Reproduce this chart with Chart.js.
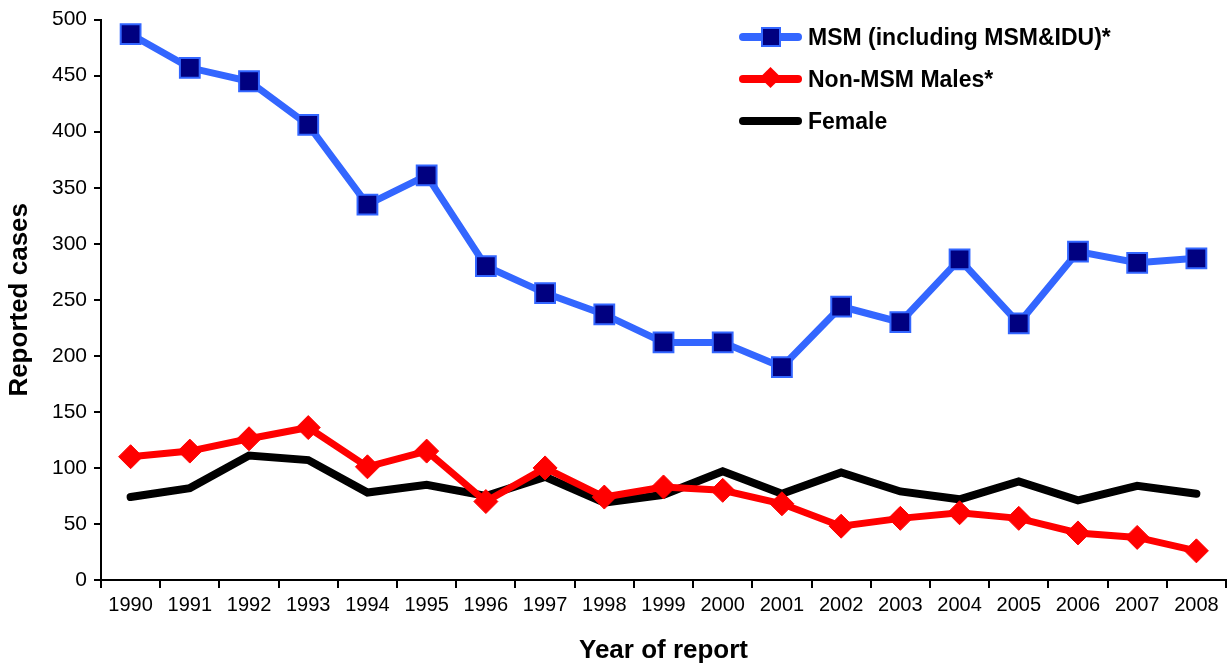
<!DOCTYPE html>
<html>
<head>
<meta charset="utf-8">
<script src="https://cdn.jsdelivr.net/npm/chart.js@4"></script>
<style>
  html, body { margin: 0; padding: 0; background: #fff; overflow: hidden; }
  #wrap { position: relative; width: 1231px; height: 670px; }
  #c { display: block; }
  #legend { position: absolute; left: 739px; top: 21px; font: bold 23px "Liberation Sans", Arial, sans-serif; color: #000; }
  .row { position: relative; height: 42px; line-height: 32px; padding-left: 69px; }
  .ln { position: absolute; left: 0; top: 12px; width: 63px; height: 8px; border-radius: 4px; }
  .mk { position: absolute; }
</style>
</head>
<body>
<div id="wrap">
  <canvas id="c" width="1231" height="670"></canvas>
  <div id="legend">
    <div class="row"><span class="ln" style="background:#3366ff"></span><span class="mk" style="left:22px;top:6px;width:16px;height:16px;background:#000080;border:2px solid #3366ff"></span>MSM (including MSM&amp;IDU)*</div>
    <div class="row"><span class="ln" style="background:#ff0000"></span><span class="mk" style="left:24px;top:7px;width:15px;height:15px;background:#ff0000;transform:rotate(45deg)"></span>Non-MSM Males*</div>
    <div class="row"><span class="ln" style="background:#000"></span>Female</div>
  </div>
</div>
<script>
// === Data ===
const years = ['1990','1991','1992','1993','1994','1995','1996','1997','1998','1999',
               '2000','2001','2002','2003','2004','2005','2006','2007','2008'];
const msm = [487, 457, 445, 406, 335, 361, 280, 256, 237, 212, 212, 190, 244, 230, 286, 229, 293, 283, 287];
const nonMsmMales = [110, 115, 126, 136, 101, 115, 70, 100, 74, 83, 80, 68, 48, 55, 60, 55, 42, 38, 26];
const female = [74, 82, 111, 107, 78, 85, 75, 92, 69, 76, 97, 77, 96, 79, 72, 88, 71, 84, 77];
const yTicks = [0, 50, 100, 150, 200, 250, 300, 350, 400, 450, 500];

const font = 'Liberation Sans';

// === Chart ===
const ctx = document.getElementById('c').getContext('2d');
new Chart(ctx, {
  type: 'line',
  data: {
    labels: years,
    datasets: [
      {
        label: 'MSM (including MSM&IDU)*',
        data: msm,
        borderColor: '#3366ff',
        borderWidth: 7,
        pointStyle: 'rect',
        pointRadius: 14,
        pointBackgroundColor: '#000080',
        pointBorderColor: '#3366ff',
        pointBorderWidth: 2,
        tension: 0,
        order: 0
      },
      {
        label: 'Non-MSM Males*',
        data: nonMsmMales,
        borderColor: '#ff0000',
        borderWidth: 7,
        pointStyle: 'rectRot',
        pointRadius: 12,
        pointBackgroundColor: '#ff0000',
        pointBorderColor: '#ff0000',
        pointBorderWidth: 1,
        tension: 0,
        order: 1
      },
      {
        label: 'Female',
        data: female,
        borderColor: '#000000',
        borderWidth: 8,
        borderCapStyle: 'round',
        pointRadius: 0,
        tension: 0,
        order: 2
      }
    ]
  },
  options: {
    responsive: false,
    animation: false,
    layout: { autoPadding: false, padding: { top: 8, right: 5, left: 0, bottom: 0 } },
    plugins: {
      legend: { display: false },
      tooltip: { enabled: false }
    },
    scales: {
      x: {
        offset: true,
        grid: { offset: true, drawOnChartArea: false, color: '#000', lineWidth: 2, tickLength: 8 },
        border: { color: '#000', width: 2 },
        ticks: { color: '#000', font: { family: font, size: 20 }, maxRotation: 0, padding: 5 },
        title: { display: true, text: 'Year of report', color: '#000', font: { family: font, size: 26, weight: 'bold' }, padding: { top: 6 } },
        afterFit: function (s) { s.height = 90; }
      },
      y: {
        min: 0,
        max: 500,
        afterBuildTicks: function (s) { s.ticks = yTicks.map(v => ({ value: v })); },
        grid: { drawOnChartArea: false, color: '#000', lineWidth: 2, tickLength: 7 },
        border: { color: '#000', width: 2 },
        ticks: { color: '#000', font: { family: font, size: 21 }, padding: 7 },
        title: { display: true, text: 'Reported cases', color: '#000', font: { family: font, size: 26, weight: 'bold' }, padding: { bottom: 4 } },
        afterFit: function (s) { s.width = 101; }
      }
    }
  }
});
</script>
</body>
</html>
